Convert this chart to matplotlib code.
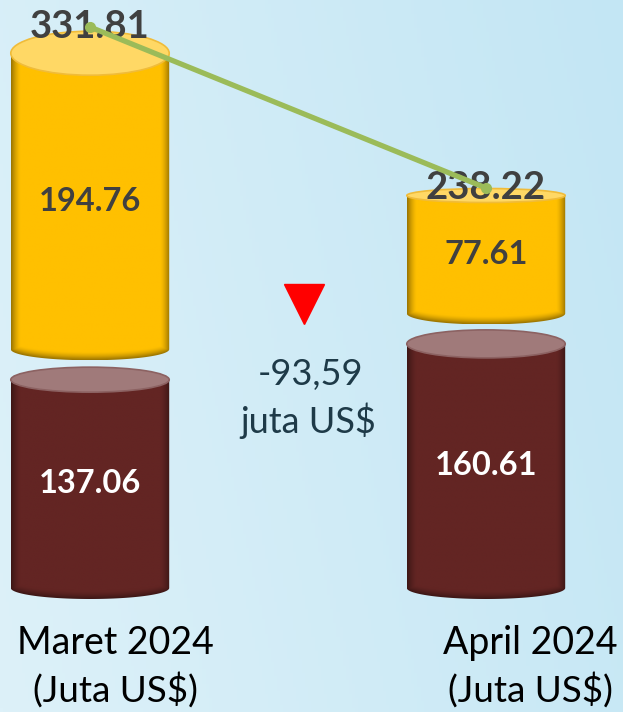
import numpy as np
import matplotlib.pyplot as plt
from matplotlib.patches import Ellipse, Polygon
from matplotlib.colors import to_rgb

months = ['Maret 2024', 'April 2024']
unit_label = '(Juta US$)'
lower_vals = [137.06, 160.61]   # maroon part
upper_vals = [194.76, 77.61]    # yellow part
totals = [331.81, 238.22]
change_val = '-93,59'
change_unit = 'juta US$'

plt.rcParams['font.family'] = ['Lato', 'DejaVu Sans']

W, H = 623, 712
fig = plt.figure(figsize=(W / 100, H / 100), dpi=100)
ax = fig.add_axes([0, 0, 1, 1])
ax.axis('off')

PX = 1.52      # pixels per unit on the y axis
XPX = 396      # pixels per category step
GAP = 20       # space between the two parts of a cylinder
R = 0.2        # cylinder radius (category units)
HB = 11 / PX   # half height of the bottom ellipses

x_lo, x_hi = -90 / XPX, (W - 90) / XPX
y_lo, y_hi = -(H - 588) / PX, 588 / PX

# background gradient
gx = np.linspace(0, 1, 200)
gy = np.linspace(0, 1, 200)
GX, GY = np.meshgrid(gx, gy)
c1 = np.array(to_rgb('#DDF1F9'))
c2 = np.array(to_rgb('#C3E6F4'))
w = np.clip(0.8 * GX + 0.2 * (1 - GY), 0, 1)[..., None]
ax.imshow(c1 + (c2 - c1) * w, extent=(x_lo, x_hi, y_lo, y_hi), origin='upper',
          aspect='auto', zorder=0)


def cylinder(xc, y0, y1, color, top_color, top_edge, hh_top):
    nx, ny = 160, 400
    ey0 = y0 - HB
    xs = np.linspace(xc - R, xc + R, nx)
    ys = np.linspace(ey0, y1, ny)
    X, Y = np.meshgrid(xs, ys)
    t = np.clip((X - xc) / R, -1, 1)
    yb = y0 - HB * np.sqrt(1 - t ** 2)
    d = (Y - yb) * PX
    rim = np.maximum(np.clip((np.abs(t) - 0.88) / 0.12, 0, 1) ** 1.5,
                     np.clip(1 - d / 8, 0, 1) ** 1.5)
    base = np.array(to_rgb(color))
    dark = base * 0.62
    img = base + (dark - base) * rim[..., None]
    im = ax.imshow(img, extent=(xc - R, xc + R, ey0, y1), origin='lower',
                   aspect='auto', zorder=2, interpolation='bilinear')
    th = np.linspace(np.pi, 2 * np.pi, 80)
    pts = [(xc - R, y1)] + list(zip(xc + R * np.cos(th), y0 + HB * np.sin(th))) + [(xc + R, y1)]
    poly = Polygon(pts, closed=True, fc='none', ec='none')
    ax.add_patch(poly)
    im.set_clip_path(poly)
    ax.add_patch(Ellipse((xc, y1), 2 * R, 2 * hh_top / PX, fc=top_color,
                         ec=top_edge, lw=1.2, zorder=3))


top_hh_upper = [22, 7]
top_hh_lower = [12.5, 14]
for i in range(len(months)):
    lo = lower_vals[i]
    up = upper_vals[i]
    cylinder(i, 0, lo, '#632523', '#A07A7A', '#8C6262', top_hh_lower[i])
    cylinder(i, lo + GAP, lo + GAP + up, '#FFC000', '#FFD865', '#F0BC3A', top_hh_upper[i])
    ax.text(i, lo / 2, f'{lo:.2f}', ha='center', va='center', fontsize=23.5,
            fontweight='bold', color='white', zorder=5)
    ax.text(i, lo + GAP + up / 2, f'{up:.2f}', ha='center', va='center', fontsize=23.5,
            fontweight='bold', color='#404040', zorder=5)

ax.set_xlim(x_lo, x_hi)
ax.set_ylim(y_lo, y_hi)

# total line on its own scale
ax2 = ax.twinx()
ax2.axis('off')
ax2.set_ylim(-66.5, 347.5)
ax2.set_xlim(x_lo, x_hi)
x = np.arange(len(totals))
for i, v in enumerate(totals):
    ax2.text(i, v, f'{v:.2f}', ha='center', va='center', fontsize=27.5,
             fontweight='bold', color='#404040', zorder=3)
ax2.plot(x, totals, color='#9BBB59', lw=3.8, marker='o', ms=7,
         solid_capstyle='round', zorder=4)

# change marker and text
ax.plot([304 / W], [1 - 304 / H], marker='v', ms=29, color='#FF0000',
        transform=ax.transAxes, zorder=6, clip_on=False)
ax.text(310 / W, 1 - 385 / H, change_val, ha='center', va='baseline', fontsize=26,
        color='#1E3A48', transform=ax.transAxes)
ax.text(308 / W, 1 - 433 / H, change_unit, ha='center', va='baseline', fontsize=26,
        color='#1E3A48', transform=ax.transAxes)

# month labels
label_x = [115, 530]
for i, m in enumerate(months):
    ax.text(label_x[i] / W, 1 - 654 / H, m, ha='center', va='baseline', fontsize=27,
            color='black', transform=ax.transAxes)
    ax.text(label_x[i] / W, 1 - 702 / H, unit_label, ha='center', va='baseline',
            fontsize=26.5, color='black', transform=ax.transAxes)

fig.savefig('out.png', dpi=100)
